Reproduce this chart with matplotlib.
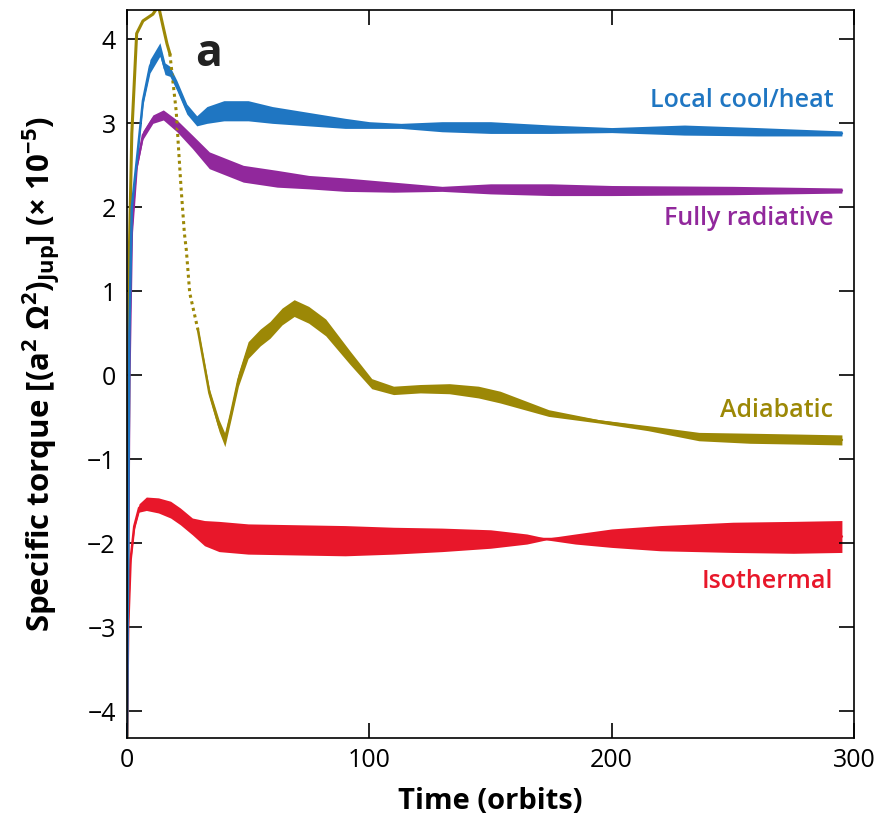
import numpy as np
import matplotlib.pyplot as plt

plt.rcParams['font.family'] = ['Open Sans', 'DejaVu Sans']
plt.rcParams['mathtext.fontset'] = 'custom'
plt.rcParams['mathtext.rm'] = 'Open Sans'
plt.rcParams['mathtext.bf'] = 'Open Sans:bold'

# ---- data (time in orbits, torque in 1e-5 units) ----
# Local cool/heat
t_cool = [0, 1, 2, 4.5, 6.6, 9.5, 13.6, 15.7, 17.7, 20.6, 24.7, 28.8, 33, 40, 50, 60,
          75, 90, 100, 113, 130, 150, 175, 200, 230, 260, 295]
v_cool = [-4.3, 0.5, 2.0, 2.68, 3.27, 3.68, 3.88, 3.65, 3.62, 3.45, 3.17, 3.03, 3.1, 3.15,
          3.15, 3.1, 3.05, 3.0, 2.98, 2.97, 2.96, 2.95, 2.93, 2.92, 2.92, 2.9, 2.88]
w_cool = [0, 0.02, 0.03, 0.04, 0.05, 0.08, 0.08, 0.07, 0.06, 0.06, 0.06, 0.06, 0.1, 0.12,
          0.12, 0.1, 0.08, 0.06, 0.04, 0.03, 0.06, 0.07, 0.05, 0.03, 0.06, 0.05, 0.03]

# Fully radiative
t_rad = [0, 1, 2, 4, 6.6, 10.7, 15, 20.6, 27, 34, 48, 62, 75, 90, 110, 130, 150, 175,
         200, 250, 295]
v_rad = [-4.3, 0.0, 1.7, 2.48, 2.86, 3.05, 3.1, 2.97, 2.78, 2.56, 2.4, 2.34, 2.3, 2.27,
         2.24, 2.22, 2.22, 2.21, 2.2, 2.2, 2.2]
w_rad = [0, 0.02, 0.03, 0.03, 0.05, 0.05, 0.06, 0.07, 0.08, 0.1, 0.1, 0.1, 0.08, 0.08,
         0.06, 0.03, 0.06, 0.07, 0.06, 0.05, 0.03]

# Adiabatic: solid start, dotted drop, solid rest
t_adi_a = [0, 1, 2, 4, 6.6, 10.7, 13, 15, 16.5, 17.7]
v_adi_a = [-4.3, 1.5, 2.88, 4.07, 4.22, 4.3, 4.4, 4.14, 3.95, 3.83]
t_adi_d = [17.7, 20.3, 22.3, 23.7, 24.5, 25.9, 29.3]
v_adi_d = [3.83, 3.15, 2.24, 1.69, 1.49, 0.98, 0.54]
t_adi = [29.3, 34, 38, 40.4, 43, 46, 50, 55, 59, 64, 69, 75, 82, 92, 101, 110, 121, 133,
         145, 154, 174, 195, 215, 236, 257, 277, 295]
v_adi = [0.54, -0.21, -0.6, -0.77, -0.45, -0.05, 0.3, 0.45, 0.54, 0.7, 0.8, 0.72, 0.57,
         0.21, -0.1, -0.18, -0.16, -0.16, -0.2, -0.26, -0.45, -0.55, -0.63, -0.73, -0.75,
         -0.76, -0.77]
w_adi = [0.03, 0.05, 0.07, 0.08, 0.07, 0.08, 0.1, 0.1, 0.1, 0.1, 0.1, 0.1, 0.1, 0.08,
         0.06, 0.05, 0.05, 0.06, 0.07, 0.07, 0.04, 0.02, 0.03, 0.05, 0.06, 0.06, 0.06]

# Isothermal
t_iso = [0, 0.5, 1.5, 3, 5, 8, 13, 18, 22, 27, 32, 38, 50, 70, 90, 110, 130, 150, 165,
         173, 185, 200, 220, 250, 275, 295]
v_iso = [-4.3, -3.0, -2.2, -1.8, -1.58, -1.53, -1.55, -1.6, -1.68, -1.8, -1.88, -1.92,
         -1.95, -1.96, -1.97, -1.97, -1.96, -1.95, -1.95, -1.95, -1.95, -1.94, -1.94,
         -1.93, -1.93, -1.92]
w_iso = [0, 0.02, 0.03, 0.04, 0.05, 0.08, 0.09, 0.1, 0.1, 0.1, 0.15, 0.18, 0.18, 0.18,
         0.18, 0.16, 0.14, 0.11, 0.06, 0.01, 0.06, 0.11, 0.15, 0.18, 0.19, 0.19]

c_cool = '#1f76c2'
c_rad = '#91289c'
c_adi = '#9c8806'
c_iso = '#e8172a'

fig = plt.figure(figsize=(8.78, 8.26), dpi=100)
ax = fig.add_axes([0.1446, 0.1065, 0.8281, 0.8814])


def band(t, v, w, c):
    t = np.array(t)
    v = np.array(v)
    w = np.array(w)
    ax.fill_between(t, v - w, v + w, color=c, lw=0)
    ax.plot(t, v, color=c, lw=1.8, solid_capstyle='round')


band(t_iso, v_iso, w_iso, c_iso)
band(t_adi, v_adi, w_adi, c_adi)
ax.plot(t_adi_a, v_adi_a, color=c_adi, lw=2.2)
ax.plot(t_adi_d, v_adi_d, color=c_adi, lw=2.2, ls=(0, (1, 1.2)))
band(t_rad, v_rad, w_rad, c_rad)
band(t_cool, v_cool, w_cool, c_cool)

ax.set_xlim(0, 300)
ax.set_ylim(-4.32, 4.35)
ax.set_xticks([0, 100, 200, 300])
ax.set_yticks(range(-4, 5))
ax.tick_params(direction='in', length=11, width=1.2, labelsize=18, top=True, right=True)
ax.tick_params(axis='y', pad=8)
ax.tick_params(axis='x', pad=7)
for s in ax.spines.values():
    s.set_linewidth(1.2)

ax.set_xlabel('Time (orbits)', fontsize=21, fontweight='bold', labelpad=10)
ax.set_ylabel(r'Specific torque [(a$^{\mathbf{2}}$ Ω$^{\mathbf{2}}$)$_{\mathbf{Jup}}$] (× 10$^{\mathbf{-5}}$)',
              fontsize=22.5, fontweight='bold', labelpad=18)

ax.text(28, 3.82, 'a', fontsize=32, fontweight='bold', color='#222222', va='center')
lab_kw = dict(fontsize=18, fontweight='semibold', ha='right', va='center')
ax.text(291.5, 3.27, 'Local cool/heat', color=c_cool, **lab_kw)
ax.text(291.5, 1.87, 'Fully radiative', color=c_rad, **lab_kw)
ax.text(291.5, -0.42, 'Adiabatic', color=c_adi, **lab_kw)
ax.text(291.5, -2.46, 'Isothermal', color=c_iso, **lab_kw)

fig.savefig('out.png', dpi=100)
